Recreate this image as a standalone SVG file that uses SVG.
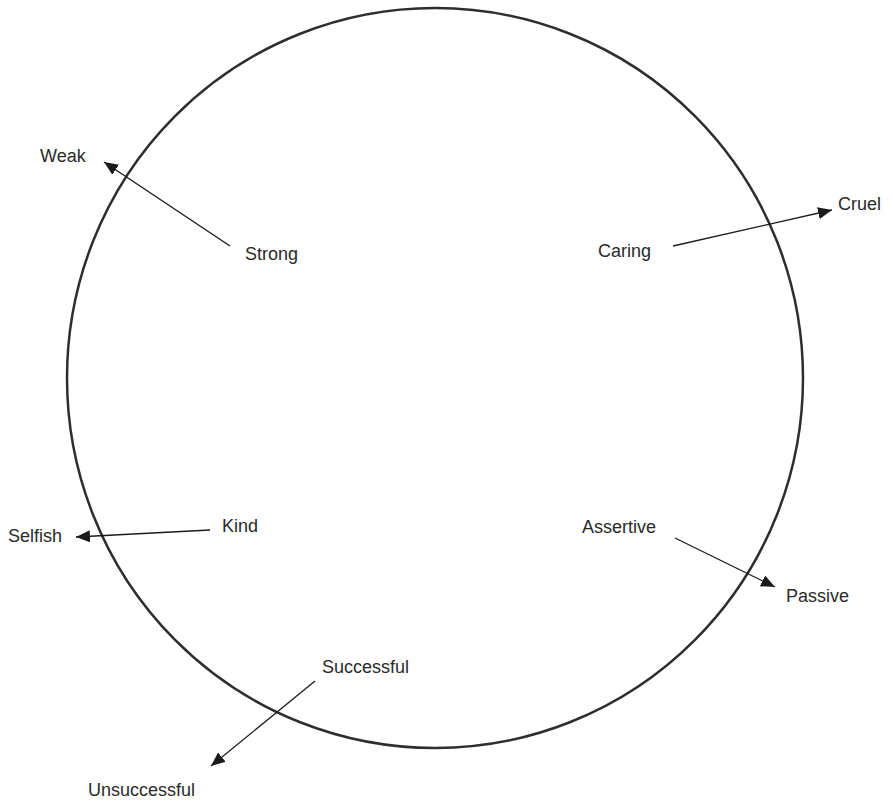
<svg xmlns="http://www.w3.org/2000/svg" width="893" height="806" viewBox="0 0 893 806">
<style>
.lbl{font-family:"Liberation Sans",Arial,sans-serif;font-size:18px;fill:#2a2a2a}
.conn{stroke:#1a1a1a;stroke-width:1.3;fill:none;marker-end:url(#ah)}
</style>
<defs>
<marker id="ah" markerUnits="userSpaceOnUse" markerWidth="15" markerHeight="13" refX="14" refY="6" orient="auto">
<path d="M0,0 L14,6 L0,12 z" fill="#1a1a1a"/>
</marker>
</defs>
<rect width="893" height="806" fill="#fff"/>
<g id="circle">
<ellipse cx="435" cy="378" rx="368" ry="370" fill="none" stroke="#2e2e2e" stroke-width="2.5"/>
</g>
<g id="connectors">
<line class="conn" x1="230" y1="246" x2="104" y2="162"/>
<line class="conn" x1="673" y1="246" x2="832" y2="210"/>
<line class="conn" x1="210" y1="530" x2="76" y2="537"/>
<line class="conn" x1="675" y1="538" x2="775" y2="587"/>
<line class="conn" x1="315" y1="681" x2="211" y2="766"/>
</g>
<g id="weak"><text class="lbl" x="40" y="162">Weak</text></g>
<g id="strong"><text class="lbl" x="245" y="260">Strong</text></g>
<g id="caring"><text class="lbl" x="598" y="257">Caring</text></g>
<g id="cruel"><text class="lbl" x="838" y="210">Cruel</text></g>
<g id="kind"><text class="lbl" x="222" y="532">Kind</text></g>
<g id="selfish"><text class="lbl" x="8" y="542">Selfish</text></g>
<g id="assertive"><text class="lbl" x="582" y="533">Assertive</text></g>
<g id="passive"><text class="lbl" x="786" y="602">Passive</text></g>
<g id="successful"><text class="lbl" x="322" y="673">Successful</text></g>
<g id="unsuccessful"><text class="lbl" x="88" y="796">Unsuccessful</text></g>
</svg>
